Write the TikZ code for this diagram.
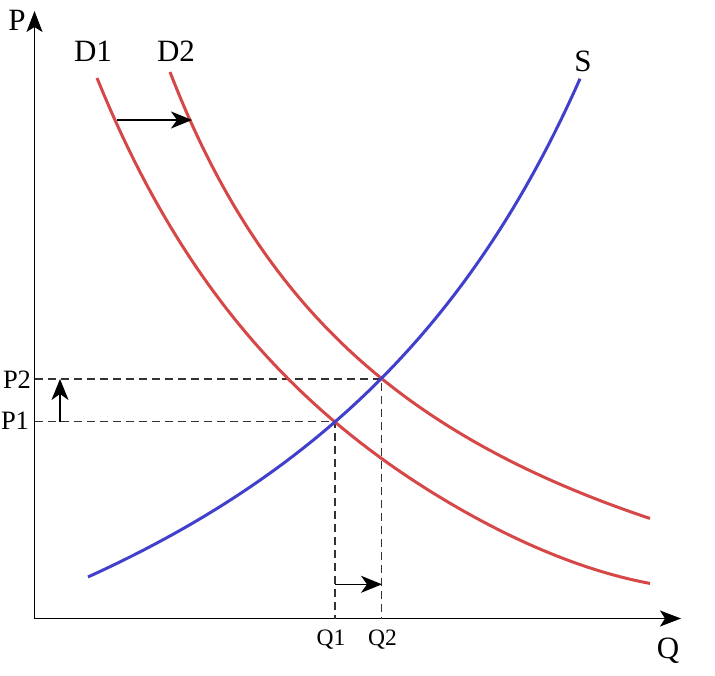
\documentclass[tikz,border=0pt]{standalone}
\usepackage{fontspec}
\setmainfont{Liberation Serif}
\usetikzlibrary{arrows.meta}
\definecolor{dred}{RGB}{214,72,72}
\definecolor{sblue}{RGB}{64,64,204}
\tikzset{
  axisline/.style={line width=1.6pt,-{Stealth[length=21pt,width=16pt,inset=5pt]}},
  curveD/.style={dred,line width=3pt},
  curveS/.style={sblue,line width=3pt},
  guide/.style={black!80,line width=1.3pt,dash pattern=on 8pt off 5pt},
  movearrow/.style={line width=1.6pt,-{Stealth[length=21pt,width=17pt,inset=6pt]}},
  big/.style={font=\fontsize{31}{31}\selectfont},
  midl/.style={font=\fontsize{26.5}{26.5}\selectfont},
  small/.style={font=\fontsize{23.5}{23.5}\selectfont}
}
\begin{document}
\begin{tikzpicture}[x=1pt,y=-1pt]
\useasboundingbox (0,0) rectangle (715,676);
% axes
\coordinate (O) at (34.5,618.5);
\coordinate (Ptop) at (34.5,11);
\coordinate (Qend) at (681,618.5);
\draw[axisline] (O) -- (Ptop);
\draw[axisline] (O) -- (Qend);
% equilibrium points
\coordinate (E1) at (335,421.7);
\coordinate (E2) at (381.7,379);
\coordinate (P1a) at (34.5,421.7);
\coordinate (P2a) at (34.5,379);
\coordinate (Q1a) at (335,618.5);
\coordinate (Q2a) at (381.7,618.5);
% guides
\draw[guide] (P2a) -- (E2) -- (Q2a);
\draw[guide] (P1a) -- (E1) -- (Q1a);
% curves
\draw[curveD] plot[domain=97:650,samples=90] (\x,{909.2-2801.3/((\x+240)/100)-11*max(0,(\x-450)/200)*max(0,(\x-450)/200)*max(0,(\x-450)/200)});
\draw[curveD] plot[domain=170:650,samples=90] (\x,{769.6-1883.4/((\x+100)/100)});
\draw[curveS] plot[domain=88:580,samples=90] (\x,{982-3613/((980-\x)/100)});
% shift arrows
\coordinate (a1) at (116.7,120);
\coordinate (a2) at (192,120);
\draw[movearrow] (a1) -- (a2);
\coordinate (b1) at (60,421.7);
\coordinate (b2) at (60,379);
\draw[movearrow] (b1) -- (b2);
\coordinate (c1) at (335,584.3);
\coordinate (c2) at (382,584.3);
\draw[movearrow] (c1) -- (c2);
% labels
\node[big] (lP) at (17,20) {P};
\node[big] (lQ) at (668,651) {Q};
\node[big] (lD1) at (93,51) {D1};
\node[big] (lD2) at (176,51) {D2};
\node[big] (lS) at (583,61) {S};
\node[midl] (lP2) at (17,380) {P2};
\node[midl] (lP1) at (15,421) {P1};
\node[small] (lQ1) at (331,640) {Q1};
\node[small] (lQ2) at (382.5,640) {Q2};
\end{tikzpicture}
\end{document}
